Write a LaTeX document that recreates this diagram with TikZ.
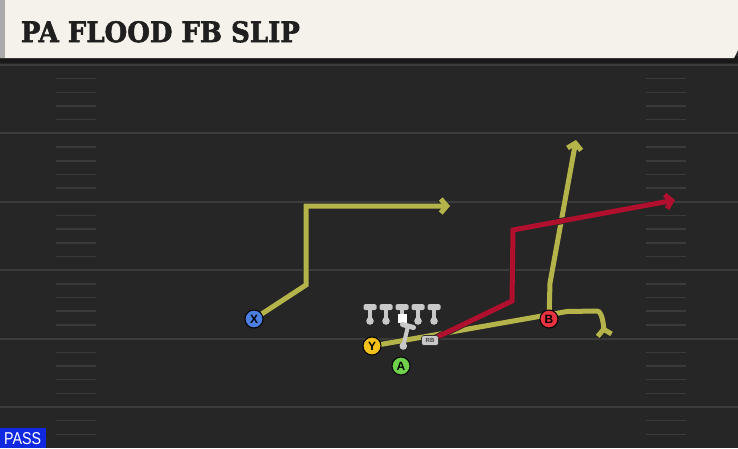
\documentclass[tikz,border=0pt]{standalone}
\usepackage{fontspec}
\setmainfont{Liberation Sans}
\newfontfamily\titlefont{DejaVu Serif Bold}[FakeBold=2]
\usetikzlibrary{arrows.meta, positioning}
\definecolor{fieldgray}{RGB}{38, 38, 38}
\definecolor{yardgray}{RGB}{60, 60, 60}
\definecolor{hashgray}{RGB}{58, 58, 58}
\definecolor{headercream}{RGB}{245, 242, 235}
\definecolor{headeredge}{RGB}{170, 170, 170}
\definecolor{routeyellow}{RGB}{181, 180, 74}
\definecolor{routered}{RGB}{176, 16, 46}
\definecolor{playerblue}{RGB}{74, 127, 224}
\definecolor{playergold}{RGB}{242, 194, 27}
\definecolor{playergreen}{RGB}{111, 209, 74}
\definecolor{playerred}{RGB}{232, 51, 63}
\definecolor{linemangray}{RGB}{200, 200, 200}
\definecolor{passblue}{RGB}{16, 40, 224}
\pgfdeclarelayer{field}
\pgfdeclarelayer{routes}
\pgfsetlayers{field,routes,main}

\begin{document}
\begin{tikzpicture}[x=1pt, y=-1pt,
    player/.style={circle, draw=black, line width=1pt, minimum size=18pt, inner sep=0pt,
        font=\fontsize{12}{12}\selectfont\bfseries},
    route/.style={line width=5pt, line join=miter, -{Straight Barb[length=6pt, width=14pt]},
        preaction={draw=black!85, line width=6.5pt}}]
\useasboundingbox (0,0) rectangle (738,448);
\begin{pgfonlayer}{field}
% Field
\fill[fieldgray] (0,0) rectangle (738,448);
\fill[black!90] (0,56) rectangle (738,63);
% Yard lines
\foreach \n in {0,...,5}
    \draw[yardgray, line width=2pt] (0,65+68.4*\n) -- (738,65+68.4*\n);
% Hash marks
\foreach \m in {1,...,27} {
    \pgfmathtruncatemacro{\r}{mod(\m,5)}
    \ifnum\r>0
        \draw[hashgray, line width=1.5pt] (56,65+13.68*\m) -- (96,65+13.68*\m);
        \draw[hashgray, line width=1.5pt] (646,65+13.68*\m) -- (686,65+13.68*\m);
    \fi
}
% Header
\fill[headercream] (0,0) -- (738,0) -- (738,50) -- (734,58) -- (0,58) -- cycle;
\fill[headeredge] (0,0) rectangle (5,58);
\end{pgfonlayer}
\node[anchor=south west, inner sep=0pt, text=black!88] (title) at (20.7,42.7)
    {\resizebox{279pt}{21pt}{\titlefont PA FLOOD FB SLIP}};
% Offensive line
\foreach \x in {370,386,418,434} {
    \fill[linemangray, rounded corners=1.5pt] (\x-6.5,304) rectangle (\x+6.5,310);
    \fill[linemangray] (\x-2.3,309) rectangle (\x+2.3,320);
    \fill[linemangray] (\x,321) circle (3.8);
}
\fill[linemangray, rounded corners=1.5pt] (395.5,304) rectangle (408.5,310);
\fill[linemangray] (399.7,309) rectangle (404.3,315);
\fill[white] (397.5,313.5) rectangle (406.5,322.5);
% Quarterback
\draw[linemangray, line width=4pt] (408,326) -- (403.5,345);
\draw[linemangray, line width=5pt, line cap=round] (402.5,324.5) -- (413.5,327.5);
\fill[linemangray] (403.3,346) circle (3.8);
% Players
\node[player, fill=playerblue] (x) at (254,319) {X};
\node[player, fill=playergold] (y) at (372,346) {Y};
\node[player, fill=playergreen] (a) at (401,366) {A};
\node[player, fill=playerred] (b) at (549,319) {B};
\node[fill=linemangray, draw=black!80, line width=0.6pt, rounded corners=2.5pt, minimum width=17pt,
    minimum height=10pt, inner sep=0pt, font=\fontsize{6}{6}\selectfont\bfseries, text=black!75]
    (rb) at (430,340.5) {RB};
% Route points
\coordinate (xbreak) at (306,285);
\coordinate (xcorner) at (306,206);
\coordinate (xend) at (450,206);
\coordinate (yflat) at (567,311.5);
\coordinate (yturn) at (597,311);
\coordinate (yend) at (603,326);
\coordinate (bstem) at (550,283);
\coordinate (bend) at (576,140);
\coordinate (rbbreak) at (512,301);
\coordinate (rbcorner) at (513,230);
\coordinate (rbend) at (675,200);
% Routes
\begin{pgfonlayer}{routes}
\draw[route, routeyellow] (x.center) -- (xbreak) -- (xcorner) -- (xend);
\draw[route, routeyellow] (y.center) -- (yflat) -- (yturn) to[out=0, in=-80] (yend);
\draw[route, routeyellow] (b.center) -- (bstem) -- (bend);
\draw[route, routered] (rb.center) -- (rbbreak) -- (rbcorner) -- (rbend);
\end{pgfonlayer}
% Play type tag
\fill[passblue] (0,428) rectangle (46,448);
\node[anchor=south west, inner sep=0pt, text=white] (pass) at (4,445)
    {\resizebox{37pt}{12pt}{PASS}};
\end{tikzpicture}
\end{document}
